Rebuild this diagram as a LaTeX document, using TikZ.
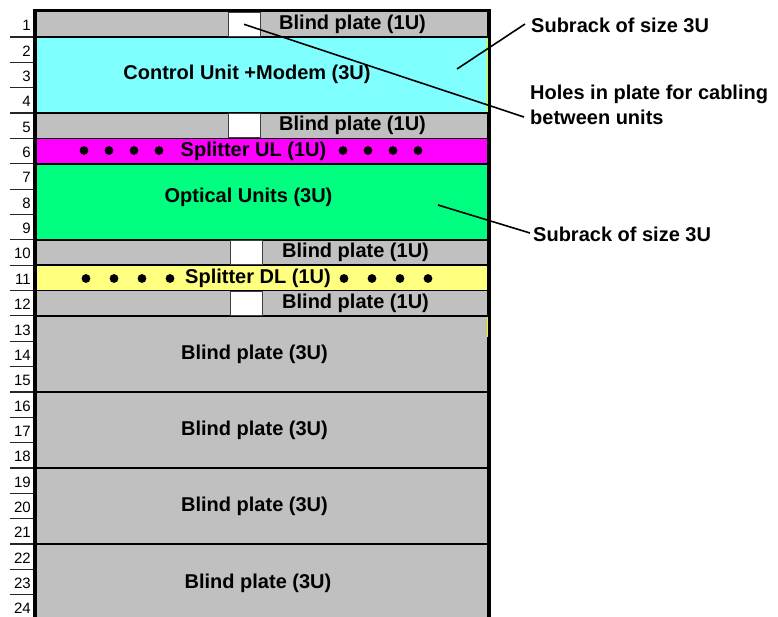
\documentclass[tikz,border=0pt]{standalone}
\usepackage{fontspec}
\setmainfont{Liberation Sans}
\usetikzlibrary{positioning}
\definecolor{plategray}{HTML}{C0C0C0}
\definecolor{ctrlcyan}{HTML}{80FFFF}
\definecolor{splitmag}{HTML}{FF00FF}
\definecolor{optgreen}{HTML}{00FF80}
\definecolor{splityellow}{HTML}{FFFF80}
\newcommand{\unith}{25.35pt}
\tikzstyle{unit} = [rectangle, minimum width=452pt, inner sep=0pt, outer sep=0pt, draw=black, line width=1.5pt, anchor=north west]
\tikzstyle{hole} = [rectangle, minimum width=32pt, minimum height=23.8pt, inner sep=0pt, outer sep=0pt, fill=white, draw=black!75, line width=1pt, anchor=west]
\tikzstyle{unittext} = [font=\fontsize{20}{24}\selectfont\bfseries, inner sep=0pt]
\tikzstyle{note} = [font=\fontsize{20}{25}\selectfont\bfseries, inner sep=0pt, align=left]
\tikzstyle{rownum} = [font=\fontsize{15}{18}\selectfont, inner sep=0pt, anchor=base east]
\tikzstyle{numline} = [line width=1.2pt, black!85]
\tikzstyle{pointer} = [line width=1.6pt]

\begin{document}
\begin{tikzpicture}[x=1pt, y=-1pt, node distance=0pt]
\useasboundingbox (0,0) rectangle (778,616);

% rack, top to bottom
\node (blind1) [unit, fill=plategray, minimum height=\unith] at (36,11.65) {};
\node (ctrl) [unit, fill=ctrlcyan, minimum height=3*\unith, below=of blind1] {};
\node (blind5) [unit, fill=plategray, minimum height=\unith, below=of ctrl] {};
\node (splitul) [unit, fill=splitmag, minimum height=\unith, below=of blind5] {};
\node (optical) [unit, fill=optgreen, minimum height=3*\unith, below=of splitul] {};
\node (blind10) [unit, fill=plategray, minimum height=\unith, below=of optical] {};
\node (splitdl) [unit, fill=splityellow, minimum height=\unith, below=of blind10] {};
\node (blind12) [unit, fill=plategray, minimum height=\unith, below=of splitdl] {};
\node (blind13) [unit, fill=plategray, minimum height=3*\unith, below=of blind12] {};
\node (blind16) [unit, fill=plategray, minimum height=3*\unith, below=of blind13] {};
\node (blind19) [unit, fill=plategray, minimum height=3*\unith, below=of blind16] {};
\node (blind22) [unit, fill=plategray, minimum height=3*\unith, below=of blind19] {};

% holes for cabling
\node (hole1) [hole] at ([xshift=192pt]blind1.west) {};
\node (hole5) [hole] at ([xshift=192pt]blind5.west) {};
\node (hole10) [hole] at ([xshift=194pt]blind10.west) {};
\node (hole12) [hole] at ([xshift=194pt]blind12.west) {};

\draw[yellow, line width=1pt] (487.6,38) -- (487.6,112);
\draw[yellow, line width=1pt] (487.6,317) -- (487.6,337);

% labels
\node (bp1) [unittext, right=19pt of hole1] {Blind plate (1U)};
\node (bp5) [unittext, right=19pt of hole5] {Blind plate (1U)};
\node (bp10) [unittext, right=20pt of hole10] {Blind plate (1U)};
\node (bp12) [unittext, right=20pt of hole12] {Blind plate (1U)};
\node (ctrltext) [unittext, xshift=-15pt, yshift=1pt] at (ctrl) {Control Unit +Modem (3U)};
\node (ultext) [unittext, xshift=-8.5pt] at (splitul) {Splitter UL (1U)};
\node (optext) [unittext, xshift=-13.5pt, yshift=4pt] at (optical) {Optical Units (3U)};
\node (dltext) [unittext, xshift=-4pt] at (splitdl) {Splitter DL (1U)};
\node (bp13) [unittext, xshift=-7.5pt] at (blind13) {Blind plate (3U)};
\node (bp16) [unittext, xshift=-7.5pt] at (blind16) {Blind plate (3U)};
\node (bp19) [unittext, xshift=-7.5pt] at (blind19) {Blind plate (3U)};
\node (bp22) [unittext, xshift=-4pt, yshift=-1pt] at (blind22) {Blind plate (3U)};

\foreach \dx in {84,109,134,159,343,368,393,418}
  \fill (\dx,150.5) circle (4.4pt);
\foreach \dx in {86,114,142,170,344,372,400,428}
  \fill (\dx,278.5) circle (4.4pt);

% frame
\draw[line width=3pt] (34.5,625) -- (34.5,10.3) -- (489.5,10.3) -- (489.5,625);

% row numbers
\foreach \k in {1,...,24} {
  \pgfmathsetmacro\yb{37+(\k-1)*25.35}
  \draw[numline] (10,\yb) -- (33,\yb);
  \node (num\k) [rownum] at (31,\yb-6.2) {\k};
}

% notes
\coordinate (ctrlpt) at (457,69);
\coordinate (optpt) at (438,205);
\node (subctrl) [note, anchor=west] at (531,25.5) {Subrack of size 3U};
\node (holes) [note, anchor=base west] at (530,124) {Holes in plate for cabling\\between units};
\node (subopt) [note, anchor=west] at (533,234.5) {Subrack of size 3U};
\draw[pointer] (ctrlpt) -- ([xshift=-6pt,yshift=1.5pt]subctrl.west);
\draw[pointer] (hole1.center) -- ([xshift=-6pt,yshift=7pt]holes.base west);
\draw[pointer] (optpt) -- ([xshift=-3pt,yshift=1.5pt]subopt.west);
\end{tikzpicture}
\end{document}
